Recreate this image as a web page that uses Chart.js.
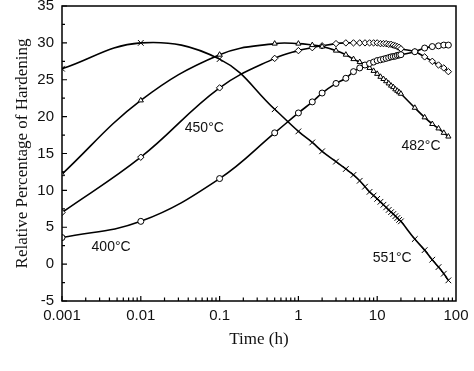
<!DOCTYPE html>
<html>
<head>
<meta charset="utf-8">
<script src="https://cdn.jsdelivr.net/npm/chart.js@4.4.1/dist/chart.umd.min.js"></script>
<style>
  html, body { margin: 0; padding: 0; background: #fff; }
  #wrap { width: 474px; height: 371px; }
</style>
</head>
<body>
<div id="wrap"><canvas id="hardening_chart" width="474" height="371"></canvas></div>
<script>
// Время выдержки, ч
const times = [0.001, 0.01, 0.1, 0.5, 1, 1.5, 2, 3, 4, 5, 6, 7, 8, 9, 10, 11, 12, 13, 14, 15, 16, 17, 18, 19, 20, 30, 40, 50, 60, 70, 80];

// Относительное упрочнение, % (по температурам)
const hard400 = [3.6, 5.8, 11.6, 17.8, 20.5, 22.0, 23.2, 24.5, 25.2, 26.1, 26.6, 27.0, 27.2, 27.4, 27.6, 27.7, 27.8, 27.9, 28.0, 28.1, 28.15, 28.2, 28.3, 28.35, 28.4, 28.8, 29.3, 29.5, 29.6, 29.7, 29.7];
const hard450 = [12.2, 22.2, 28.4, 29.9, 29.9, 29.7, 29.5, 28.95, 28.4, 27.8, 27.4, 27.0, 26.6, 26.2, 25.8, 25.4, 25.1, 24.8, 24.5, 24.2, 24.0, 23.7, 23.5, 23.3, 23.1, 21.2, 19.9, 19.0, 18.4, 17.8, 17.3];
const hard482 = [7.0, 14.5, 23.9, 27.9, 28.95, 29.35, 29.6, 29.9, 30.0, 30.0, 30.0, 30.0, 30.0, 30.0, 30.0, 29.9, 29.9, 29.9, 29.8, 29.8, 29.7, 29.6, 29.5, 29.4, 29.2, 28.8, 28.1, 27.5, 27.0, 26.6, 26.1];
const hard551 = [26.5, 30.0, 27.8, 21.0, 18.0, 16.5, 15.3, 13.9, 12.9, 12.1, 11.3, 10.5, 9.8, 9.3, 8.85, 8.45, 8.05, 7.7, 7.35, 7.05, 6.8, 6.5, 6.25, 6.0, 5.8, 3.4, 1.9, 0.6, -0.4, -1.3, -2.2];

const seriesNames = ['400°C', '450°C', '482°C', '551°C'];
const seriesMarkers = ['circle', 'triangle', 'rectRot', 'crossRot'];

const xTickValues = [0.001, 0.01, 0.1, 1, 10, 100];
const xTickLabels = ['0.001', '0.01', '0.1', '1', '10', '100'];

// подписи кривых: [текст, время, %]
const curveLabels = [
  ['450°C', 0.064, 18.5],
  ['400°C', 0.0042, 2.3],
  ['482°C', 36, 16.0],
  ['551°C', 15.5, 0.8]
];

function makeDataset(name, values, marker) {
  return {
    label: name,
    data: values.map((v, i) => ({x: times[i], y: v})),
    borderColor: '#000',
    borderWidth: 1.6,
    fill: false,
    tension: 0.4,
    pointStyle: marker,
    pointRadius: marker === 'crossRot' ? 4 : (marker === 'rectRot' ? 3.2 : 3),
    pointBackgroundColor: '#fff',
    pointBorderColor: '#000',
    pointBorderWidth: 1
  };
}

const datasets = [
  makeDataset(seriesNames[0], hard400, seriesMarkers[0]),
  makeDataset(seriesNames[1], hard450, seriesMarkers[1]),
  makeDataset(seriesNames[2], hard482, seriesMarkers[2]),
  makeDataset(seriesNames[3], hard551, seriesMarkers[3])
];

// рамка и засечки внутрь
const framePlugin = {
  id: 'frame',
  afterDatasetsDraw(chart) {
    const {ctx, chartArea: a, scales: {x, y}} = chart;
    ctx.save();
    ctx.strokeStyle = '#000';
    ctx.lineWidth = 1.5;
    ctx.strokeRect(a.left, a.top, a.right - a.left, a.bottom - a.top);

    ctx.lineWidth = 1.2;
    ctx.beginPath();
    for (let v = -5; v <= 35; v += 2.5) {
      const py = y.getPixelForValue(v);
      const len = (v % 5 === 0) ? 5 : 3;
      ctx.moveTo(a.left, py);
      ctx.lineTo(a.left + len, py);
    }
    for (let d = -3; d < 2; d++) {
      for (let m = 1; m <= 9; m++) {
        const px = x.getPixelForValue(m * Math.pow(10, d));
        const len = m === 1 ? 5 : 3.5;
        ctx.moveTo(px, a.bottom);
        ctx.lineTo(px, a.bottom - len);
      }
    }
    ctx.stroke();

    ctx.fillStyle = '#111';
    ctx.font = '14px "Liberation Sans", Arial, sans-serif';
    ctx.textAlign = 'center';
    ctx.textBaseline = 'middle';
    curveLabels.forEach(([text, t, v]) => {
      ctx.fillText(text, x.getPixelForValue(t), y.getPixelForValue(v));
    });
    ctx.restore();
  }
};

const ctx = document.getElementById('hardening_chart');
const config = {
  type: 'line',
  data: { datasets },
  options: {
    responsive: false,
    devicePixelRatio: 1,
    animation: false,
    layout: { padding: { left: 0, right: 18, top: 6, bottom: 0 } },
    plugins: {
      legend: { display: false },
      tooltip: { enabled: false }
    },
    scales: {
      x: {
        type: 'logarithmic',
        min: 0.001,
        max: 100,
        grid: { display: false, drawTicks: false },
        border: { display: false },
        afterBuildTicks: (scale) => {
          scale.ticks = xTickValues.map(v => ({value: v}));
        },
        afterFit: (scale) => {
          scale.height = 70;
          scale.paddingLeft = 0;
          scale.paddingRight = 0;
        },
        ticks: {
          autoSkip: false,
          maxRotation: 0,
          padding: 6,
          color: '#111',
          font: { family: '"Liberation Sans", Arial, sans-serif', size: 15 },
          callback: (value, i) => xTickLabels[i]
        },
        title: {
          display: true,
          text: 'Time (h)',
          color: '#111',
          font: { family: '"Liberation Serif", "Times New Roman", serif', size: 17 },
          padding: { top: 0, bottom: 21 }
        }
      },
      y: {
        min: -5,
        max: 35,
        grid: { display: false, drawTicks: false },
        border: { display: false },
        afterFit: (scale) => {
          scale.width = 62;
          scale.paddingTop = 0;
          scale.paddingBottom = 0;
        },
        ticks: {
          stepSize: 5,
          padding: 8,
          color: '#111',
          font: { family: '"Liberation Sans", Arial, sans-serif', size: 15 }
        },
        title: {
          display: true,
          text: 'Relative Percentage of Hardening',
          color: '#111',
          font: { family: '"Liberation Serif", "Times New Roman", serif', size: 17 },
          padding: { top: 12, bottom: 0 }
        }
      }
    }
  },
  plugins: [framePlugin]
};

window.hardChart = new Chart(ctx, config);
</script>
</body>
</html>
